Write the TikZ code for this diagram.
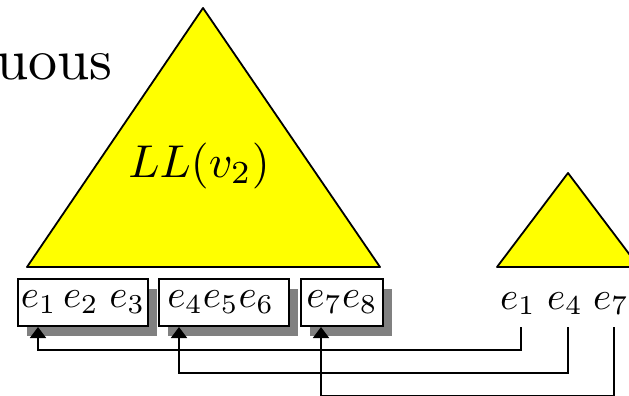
\documentclass[tikz,border=0pt]{standalone}
\usepackage{graphicx}
\usetikzlibrary{arrows.meta,shadows,calc}
\definecolor{triyellow}{RGB}{255,255,0}
\begin{document}
\begin{tikzpicture}[x=1pt,y=-1pt,
  tri/.style={draw=black, fill=triyellow, line width=1.8pt, line join=round},
  ebox/.style={draw, fill=white, line width=2pt, inner sep=0pt, minimum height=47pt,
    drop shadow={shadow xshift=9pt, shadow yshift=-10pt, fill=black!50, opacity=1}},
  conn/.style={line width=1.8pt},
  arr/.style={conn, -{Triangle[length=11pt,width=16pt]}},
  lbl/.style={inner sep=0pt, anchor=base west}]
\useasboundingbox (0,0) rectangle (629,396);
\clip (0,0) rectangle (629,396);
% heading fragment
\node[inner sep=0pt, anchor=base east] (head) at (113,80) {\scalebox{5.8}{guous}};
% triangles
\draw[tri] (203,8) -- (380,267) -- (27,267) -- cycle;
\draw[tri] (568,173) -- (639,267) -- (497,267) -- cycle;
\node[inner sep=0pt, anchor=base] (ll) at (199,177) {\scalebox{4.6}{$LL(v_2)$}};
% boxes
\node[ebox, minimum width=130pt] (b1) at (83,302.5) {\scalebox{3.9}{$e_1\,e_2\;e_3$}};
\node[ebox, minimum width=130pt] (b2) at (224,302.5) {\scalebox{3.9}{$e_4e_5e_6\,$}};
\node[ebox, minimum width=82pt] (b3) at (342,302.5) {\scalebox{3.9}{$e_7e_8$}};
% labels
\node[lbl] (l1) at (500,309) {\scalebox{3.9}{$e_1$}};
\node[lbl] (l4) at (547,309) {\scalebox{3.9}{$e_4$}};
\node[lbl] (l7) at (593,309) {\scalebox{3.9}{$e_7$}};
% connectors
\coordinate (s1) at ($(l1.base west)+(21,18)$);
\coordinate (s4) at ($(l4.base west)+(21,18)$);
\coordinate (s7) at ($(l7.base west)+(21,18)$);
\coordinate (t1) at ($(b1.south west)+(21,0)$);
\coordinate (t2) at ($(b2.south west)+(21,0)$);
\coordinate (t3) at ($(b3.south west)+(21,0)$);
\draw[arr] (s1) -- ++(0,23) -| (t1);
\draw[arr] (s4) -- ++(0,46) -| (t2);
\draw[arr] (s7) -- ++(0,68.5) -| (t3);
\end{tikzpicture}
\end{document}
